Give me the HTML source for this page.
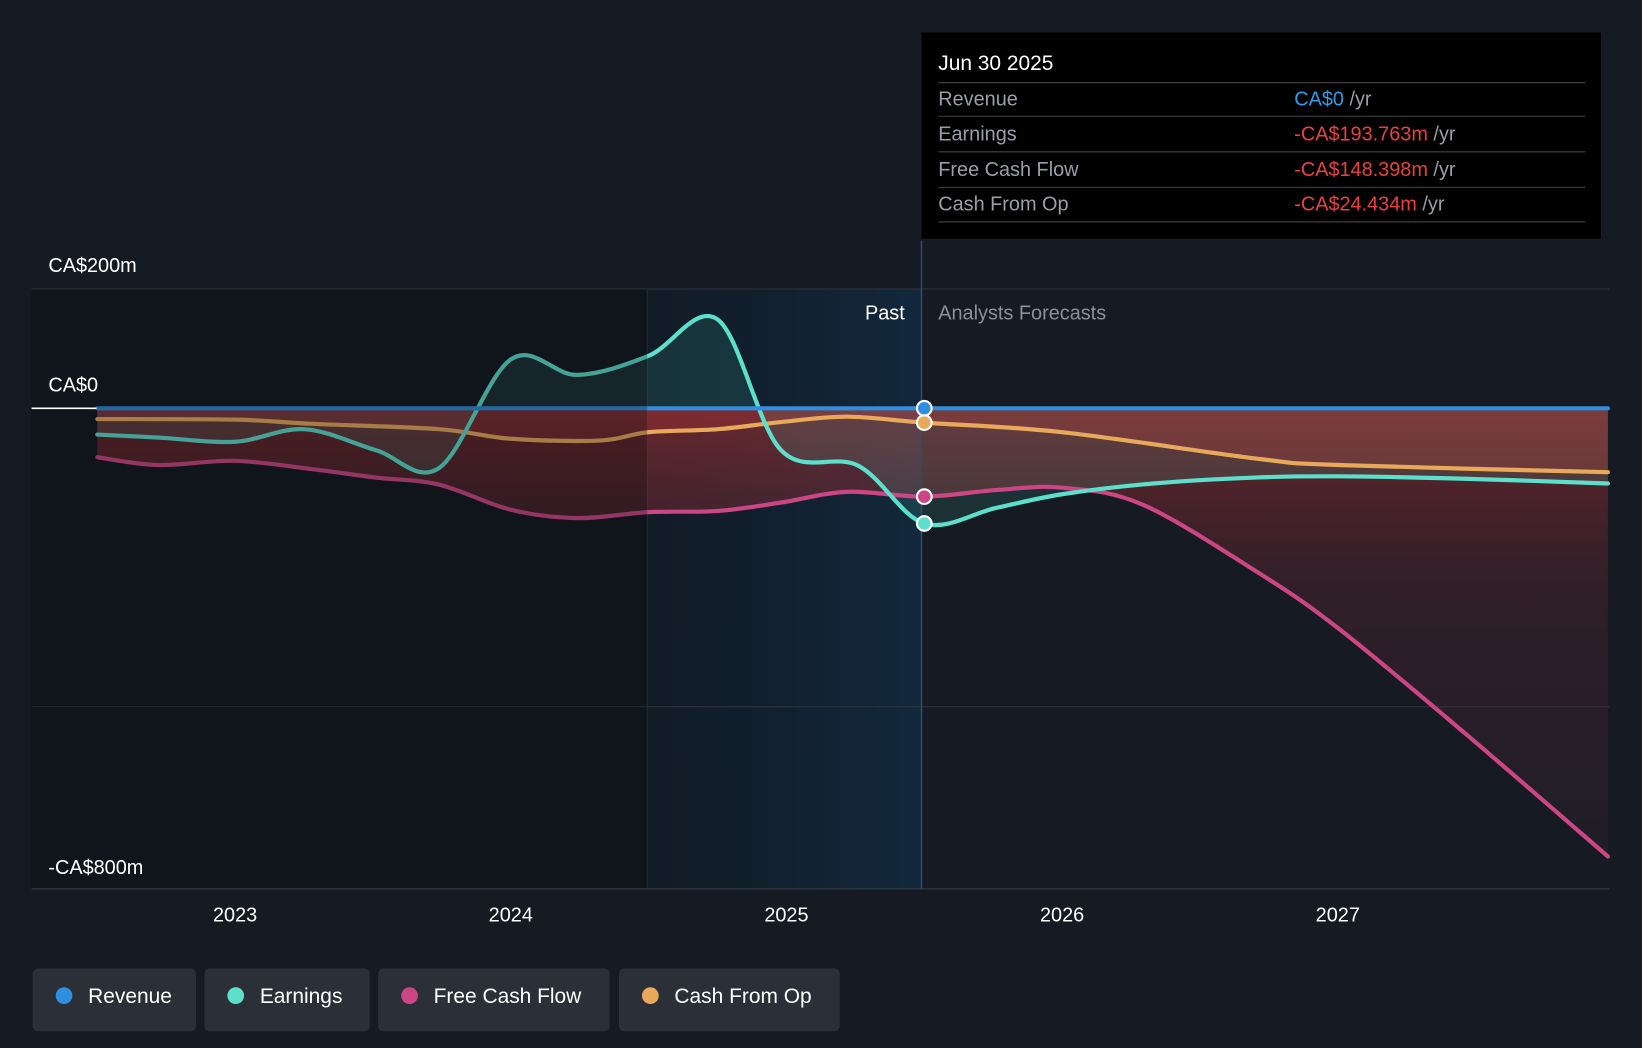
<!DOCTYPE html>
<html><head><meta charset="utf-8"><style>
html,body{margin:0;padding:0;background:#151a23;overflow:hidden}
svg{display:block;font-family:"Liberation Sans",sans-serif}
</style></head><body>
<svg id="chart" width="1642" height="1048" viewBox="0 0 1568 1001" xmlns="http://www.w3.org/2000/svg">
<defs>
<linearGradient id="hl" x1="0" x2="1" y1="0" y2="0"><stop offset="0" stop-color="#0f1d29" stop-opacity="0.6"/><stop offset="1" stop-color="#12283d"/></linearGradient>
<linearGradient id="neg" x1="0" x2="0" y1="0" y2="1"><stop offset="0" stop-color="#b03030" stop-opacity="0.55"/><stop offset="0.4" stop-color="#6a2a34" stop-opacity="0.32"/><stop offset="1" stop-color="#3a2530" stop-opacity="0.28"/></linearGradient>
<clipPath id="plotclip"><rect x="30" y="230" width="1508" height="620"/></clipPath>
</defs>
<rect width="1568" height="1001" fill="#151a23"/>
<rect x="30" y="276" width="588" height="573" fill="#11151c"/>
<rect x="618" y="276" width="262" height="573" fill="url(#hl)"/>
<line x1="618" y1="276" x2="618" y2="849" stroke="#25303b"/>
<g id="grid"></g>
<g id="areas" clip-path="url(#plotclip)"></g>
<g id="lines" clip-path="url(#plotclip)"></g>
<rect x="30" y="276" width="588" height="573" fill="#11151c" opacity="0.3"/>
<g id="ylabels"></g>
<line x1="880" y1="230" x2="880" y2="849" stroke="#2d4d66" stroke-width="1.5"/>
<text x="864" y="305" fill="#fff" font-size="19" text-anchor="end">Past</text>
<text x="896" y="305" fill="#8b9099" font-size="19">Analysts Forecasts</text>
<g id="xaxis"></g>
<g id="dots"></g>
<g>
<rect x="880" y="31" width="649" height="197" fill="#000"/>
<text x="896" y="67" fill="#fff" font-size="20">Jun 30 2025</text>
<line x1="896" y1="79" x2="1514" y2="79" stroke="#444"/>
<text x="896" y="101" fill="#9a9ea6" font-size="19">Revenue</text>
<text x="1236" y="101" font-size="19"><tspan fill="#2e9be8">CA$0</tspan><tspan fill="#9a9ea6"> /yr</tspan></text>
<line x1="896" y1="111" x2="1514" y2="111" stroke="#444"/>
<text x="896" y="134" fill="#9a9ea6" font-size="19">Earnings</text>
<text x="1236" y="134" font-size="19"><tspan fill="#e8413f">-CA$193.763m</tspan><tspan fill="#9a9ea6"> /yr</tspan></text>
<line x1="896" y1="145" x2="1514" y2="145" stroke="#444"/>
<text x="896" y="168" fill="#9a9ea6" font-size="19">Free Cash Flow</text>
<text x="1236" y="168" font-size="19"><tspan fill="#e8413f">-CA$148.398m</tspan><tspan fill="#9a9ea6"> /yr</tspan></text>
<line x1="896" y1="179" x2="1514" y2="179" stroke="#444"/>
<text x="896" y="201" fill="#9a9ea6" font-size="19">Cash From Op</text>
<text x="1236" y="201" font-size="19"><tspan fill="#e8413f">-CA$24.434m</tspan><tspan fill="#9a9ea6"> /yr</tspan></text>
<line x1="896" y1="212" x2="1514" y2="212" stroke="#444"/>
</g>
<g id="legend"></g>
</svg>
<script>
const yTicks=[200,0,-800];
const yTickLabels=["CA$200m","CA$0","-CA$800m"];
const gridVals=[200,-500];
const xYears=[2023,2024,2025,2026,2027];
const revDates=[2022.5,2027.98];
const revVals=[0,0];
const earnDates=[2022.5,2022.72,2023,2023.25,2023.51,2023.74,2024,2024.24,2024.5,2024.75,2024.98,2025.26,2025.5,2025.76,2026,2026.33,2026.7,2027,2027.46,2027.98];
const earnVals=[-44,-49,-56,-35,-70,-100,82,56,88,149,-70,-96,-193,-167,-144,-126,-116,-114,-118,-126];
const fcfDates=[2022.5,2022.72,2023,2023.28,2023.51,2023.74,2024,2024.24,2024.5,2024.75,2024.98,2025.22,2025.5,2025.76,2026,2026.29,2026.7,2027,2027.46,2027.98];
const fcfVals=[-82,-95,-88,-102,-116,-128,-170,-184,-174,-172,-158,-140,-148,-137,-133,-161,-272,-368,-544,-751];
const cfoDates=[2022.5,2023,2023.28,2023.74,2024,2024.32,2024.5,2024.75,2024.98,2025.22,2025.5,2026,2026.7,2027,2027.98];
const cfoVals=[-18,-19,-26,-35,-51,-54,-40,-35,-23,-14,-24,-40,-84,-95,-107];
const X=d=>751+(d-2025)*263.3;
const Y=v=>390-v*0.57;
const NS="http://www.w3.org/2000/svg";
function el(t,a,p){const e=document.createElementNS(NS,t);for(const k in a)e.setAttribute(k,a[k]);p.appendChild(e);return e;}
function path(ds,vs){const p=ds.map((d,i)=>[X(d),Y(vs[i])]);let s=`M${p[0][0]},${p[0][1]}`;
for(let i=0;i<p.length-1;i++){const p0=p[Math.max(i-1,0)],p1=p[i],p2=p[i+1],p3=p[Math.min(i+2,p.length-1)];
const c1=[p1[0]+(p2[0]-p0[0])/6,p1[1]+(p2[1]-p0[1])/6],c2=[p2[0]-(p3[0]-p1[0])/6,p2[1]-(p3[1]-p1[1])/6];
s+=` C${c1[0]},${c1[1]} ${c2[0]},${c2[1]} ${p2[0]},${p2[1]}`;}return s;}
const grid=document.getElementById('grid');
const yl=document.getElementById('ylabels');
gridVals.forEach(v=>{const l=el('line',{x1:30,x2:1537,y1:Y(v),y2:Y(v),stroke:'#2c323b'},grid);

});
yTicks.forEach((v,i)=>{const t=el('text',{x:46,y:Y(v)-16+(v===-800?5:0),fill:'#fff','font-size':19},yl);t.textContent=yTickLabels[i];

});
el('line',{x1:30,x2:92,y1:Y(0),y2:Y(0),stroke:'#fff','stroke-width':1.5},yl);
const areas=document.getElementById('areas'),lines=document.getElementById('lines');
function area(ds,vs,fill,name){const d=path(ds,vs)+` L${X(ds[ds.length-1])},${Y(0)} L${X(ds[0])},${Y(0)} Z`;const a=el('path',{d,fill},areas);

}
area(fcfDates,fcfVals,'url(#neg)','fcf-area');
area(earnDates,earnVals,'rgba(80,220,200,0.12)','earnings-area');
area(cfoDates,cfoVals,'rgba(200,60,60,0.22)','cfo-area');
function line(ds,vs,c,name,w){const l=el('path',{d:path(ds,vs),fill:'none',stroke:c,'stroke-width':w||4,'stroke-linecap':'round'},lines);

}
line(cfoDates,cfoVals,'#e9a95a','cash-from-op-line');
line(fcfDates,fcfVals,'#cc4584','free-cash-flow-line');
line(earnDates,earnVals,'#5ce0cc','earnings-line');
line(revDates,revVals,'#2e8fe0','revenue-line',4);
const xa=document.getElementById('xaxis');
el('line',{x1:30,x2:1537,y1:849,y2:849,stroke:'#3a4048'},xa);
xYears.forEach(y=>{const t=el('text',{x:X(y),y:880,fill:'#fff','font-size':19,'text-anchor':'middle'},xa);t.textContent=y;

});
const dots=document.getElementById('dots');
[[0,'#2e8fe0','revenue-dot'],[-24,'#e9a95a','cfo-dot'],[-148,'#cc4584','fcf-dot'],[-193,'#5ce0cc','earnings-dot']].forEach(([v,c,n])=>{
const d=el('circle',{cx:X(2025.5),cy:Y(v),r:7,fill:c,stroke:'#fff','stroke-width':2},dots);

});
const lg=document.getElementById('legend');
[[31,156,'#2e8fe0','Revenue'],[195,158,'#5ce0cc','Earnings'],[361,221,'#cc4584','Free Cash Flow'],[591,211,'#e9a95a','Cash From Op']].forEach(([x,w,c,t])=>{
const g=el('g',{},lg);


el('rect',{x,y:925,width:w,height:60,rx:5,fill:'#2a2f38'},g);
el('circle',{cx:x+30,cy:951,r:8,fill:c},g);
const tx=el('text',{x:x+53,y:958,fill:'#fff','font-size':20},g);tx.textContent=t;});
</script>
</body></html>
